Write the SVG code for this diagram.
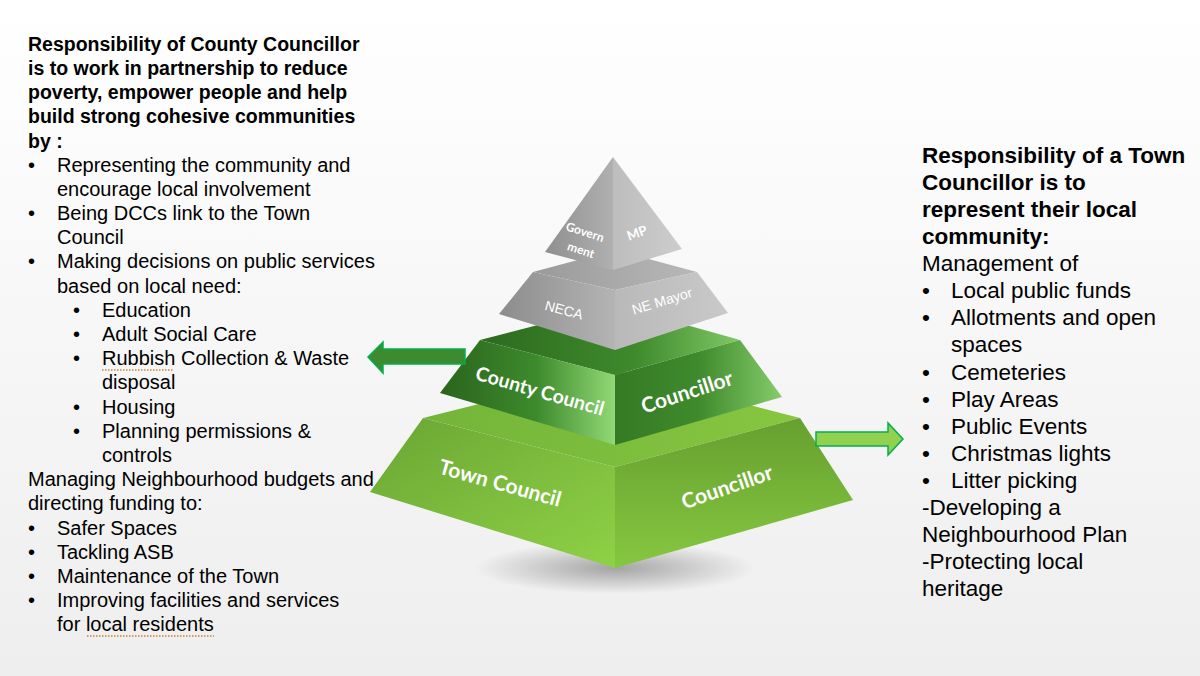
<svg xmlns="http://www.w3.org/2000/svg" width="1200" height="676" viewBox="0 0 1200 676">
<defs>
<style>
.t{font-family:"Liberation Sans",Arial,sans-serif;fill:#000}
.lb{font-size:19.5px;font-weight:bold}
.lr{font-size:20px}
.rb{font-size:22.5px;font-weight:bold}
.rr{font-size:22.5px}
.f{font-family:Lato,"Liberation Sans",sans-serif;font-weight:bold;fill:#fff;text-anchor:middle}
.fa{font-family:"Liberation Sans",Arial,sans-serif;fill:#fff;text-anchor:middle}
.sq{stroke:#c8843a;stroke-width:1.5;stroke-dasharray:1.5 1.5;fill:none}
</style>
<linearGradient id="bg" x1="0" y1="0" x2="0" y2="1"><stop offset="0" stop-color="#ffffff"/><stop offset="1" stop-color="#eeeeee"/></linearGradient>
<radialGradient id="shd" cx="0.5" cy="0.5" r="0.5"><stop offset="0" stop-color="#000" stop-opacity="0.32"/><stop offset="1" stop-color="#000" stop-opacity="0"/></radialGradient>
<linearGradient id="tL" x1="0" y1="0" x2="1" y2="0"><stop offset="0" stop-color="#8f8f8f"/><stop offset="1" stop-color="#b0b0b0"/></linearGradient>
<linearGradient id="tR" x1="0" y1="0" x2="1" y2="0"><stop offset="0" stop-color="#bdbdbd"/><stop offset="1" stop-color="#cdcdcd"/></linearGradient>
<linearGradient id="gT" x1="0" y1="0" x2="1" y2="0"><stop offset="0" stop-color="#9a9a9a"/><stop offset="1" stop-color="#b8b8b8"/></linearGradient>
<linearGradient id="gL" x1="0" y1="0" x2="1" y2="0"><stop offset="0" stop-color="#8c8c8c"/><stop offset="1" stop-color="#b4b4b4"/></linearGradient>
<linearGradient id="gR" x1="0" y1="0" x2="1" y2="0"><stop offset="0" stop-color="#b9b9b9"/><stop offset="1" stop-color="#c9c9c9"/></linearGradient>
<linearGradient id="cT" x1="0" y1="0" x2="1" y2="0"><stop offset="0" stop-color="#2c6a1f"/><stop offset="0.6" stop-color="#3f8a2c"/><stop offset="1" stop-color="#7fc866"/></linearGradient>
<linearGradient id="cL" x1="0" y1="0" x2="1" y2="0"><stop offset="0" stop-color="#2a641c"/><stop offset="0.55" stop-color="#3d8a2c"/><stop offset="1" stop-color="#92d876"/></linearGradient>
<linearGradient id="cR" x1="0" y1="0" x2="1" y2="0"><stop offset="0" stop-color="#357a24"/><stop offset="0.5" stop-color="#3f8a2d"/><stop offset="1" stop-color="#85cc6a"/></linearGradient>
<linearGradient id="wT" x1="0" y1="0" x2="1" y2="0"><stop offset="0" stop-color="#74b439"/><stop offset="1" stop-color="#86c640"/></linearGradient>
<linearGradient id="wL" x1="0" y1="0" x2="1" y2="1"><stop offset="0" stop-color="#6aa634"/><stop offset="1" stop-color="#8fd146"/></linearGradient>
<linearGradient id="wR" x1="0" y1="0" x2="0" y2="1"><stop offset="0" stop-color="#66a030"/><stop offset="1" stop-color="#86c740"/></linearGradient>
</defs>
<rect width="1200" height="676" fill="url(#bg)"/>

<g id="shadow"><ellipse cx="615" cy="568" rx="140" ry="26" fill="url(#shd)"/></g>

<g id="tier-town">
<polygon points="423,418 615,370 800,418 615,467" fill="url(#wT)"/>
<polygon points="423,418 615,467 615,568 370,492" fill="url(#wL)"/>
<polygon points="615,467 800,418 853,500 615,568" fill="url(#wR)"/>
<text class="f" font-size="21" transform="translate(500,483) rotate(15.5)" dy="0.35em">Town Council</text>
<text class="f" font-size="21" transform="translate(727,487) rotate(-19)" dy="0.35em">Councillor</text>
</g>

<g id="tier-county">
<polygon points="480,340 615,305 740,340 615,375" fill="url(#cT)"/>
<polygon points="480,340 615,375 615,445 440,393" fill="url(#cL)"/>
<polygon points="615,375 740,340 782,397 615,445" fill="url(#cR)"/>
<text class="f" font-size="19.5" transform="translate(540,391) rotate(16)" dy="0.35em">County Council</text>
<text class="f" font-size="21" transform="translate(687,392) rotate(-18)" dy="0.35em">Councillor</text>
</g>

<g id="tier-neca">
<polygon points="533,272 615,250 697,272 615,290" fill="url(#gT)"/>
<polygon points="533,272 615,290 615,350 499,314" fill="url(#gL)"/>
<polygon points="615,290 697,272 728,313 615,350" fill="url(#gR)"/>
<text class="fa" font-size="14" transform="translate(564,310) rotate(15)" dy="0.35em">NECA</text>
<text class="fa" font-size="14" transform="translate(662,301) rotate(-17)" dy="0.35em">NE Mayor</text>
</g>

<g id="tier-top">
<polygon points="613,157 545,252 613,270" fill="url(#tL)"/>
<polygon points="613,157 613,270 682,249" fill="url(#tR)"/>
<text class="f" font-size="12" transform="translate(585,232) rotate(18)" dy="0.35em">Govern</text>
<text class="f" font-size="12" transform="translate(581,250) rotate(18)" dy="0.35em">ment</text>
<text class="f" font-size="13" transform="translate(637,233) rotate(-20)" dy="0.35em">MP</text>
</g>

<g id="connectors">
<polygon points="368,357 383,342 383,349 465,349 465,364 383,364 383,373" fill="#3d8b2f" stroke="#00b050" stroke-width="1.5"/>
<polygon points="816,432 888,432 888,423 903,439 888,455 888,446 816,446" fill="#92d050" stroke="#00b050" stroke-width="1.5"/>
</g>

<g id="left-text" class="t">
<text class="lb" x="28" y="51">Responsibility of County Councillor</text>
<text class="lb" x="28" y="75">is to work in partnership to reduce</text>
<text class="lb" x="28" y="99">poverty, empower people and help</text>
<text class="lb" x="28" y="123">build strong cohesive communities</text>
<text class="lb" x="28" y="148">by :</text>
<g class="lr">
<text x="28" y="172">•</text><text x="57" y="172">Representing the community and</text>
<text x="57" y="196">encourage local involvement</text>
<text x="28" y="220">•</text><text x="57" y="220">Being DCCs link to the Town</text>
<text x="57" y="244">Council</text>
<text x="28" y="268">•</text><text x="57" y="268">Making decisions on public services</text>
<text x="57" y="293">based on local need:</text>
<text x="73" y="317">•</text><text x="102" y="317">Education</text>
<text x="73" y="341">•</text><text x="102" y="341">Adult Social Care</text>
<text x="73" y="365">•</text><text x="102" y="365">Rubbish Collection &amp; Waste</text>
<text x="102" y="389">disposal</text>
<text x="73" y="414">•</text><text x="102" y="414">Housing</text>
<text x="73" y="438">•</text><text x="102" y="438">Planning permissions &amp;</text>
<text x="102" y="462">controls</text>
<text x="28" y="486">Managing Neighbourhood budgets and</text>
<text x="28" y="510">directing funding to:</text>
<text x="28" y="535">•</text><text x="57" y="535">Safer Spaces</text>
<text x="28" y="559">•</text><text x="57" y="559">Tackling ASB</text>
<text x="28" y="583">•</text><text x="57" y="583">Maintenance of the Town</text>
<text x="28" y="607">•</text><text x="57" y="607">Improving facilities and services</text>
<text x="57" y="631">for local residents</text>
</g>
<line class="sq" x1="102" y1="370" x2="174" y2="370"/>
<line class="sq" x1="87" y1="636" x2="214" y2="636"/>
</g>

<g id="right-text" class="t">
<text class="rb" x="922" y="163">Responsibility of a Town</text>
<text class="rb" x="922" y="190">Councillor is to</text>
<text class="rb" x="922" y="217">represent their local</text>
<text class="rb" x="922" y="244">community:</text>
<g class="rr">
<text x="922" y="271">Management of</text>
<text x="922" y="298">•</text><text x="951" y="298">Local public funds</text>
<text x="922" y="325">•</text><text x="951" y="325">Allotments and open</text>
<text x="951" y="352">spaces</text>
<text x="922" y="380">•</text><text x="951" y="380">Cemeteries</text>
<text x="922" y="407">•</text><text x="951" y="407">Play Areas</text>
<text x="922" y="434">•</text><text x="951" y="434">Public Events</text>
<text x="922" y="461">•</text><text x="951" y="461">Christmas lights</text>
<text x="922" y="488">•</text><text x="951" y="488">Litter picking</text>
<text x="922" y="515">-Developing a</text>
<text x="922" y="542">Neighbourhood Plan</text>
<text x="922" y="569">-Protecting local</text>
<text x="922" y="596">heritage</text>
</g>
</g>
</svg>
